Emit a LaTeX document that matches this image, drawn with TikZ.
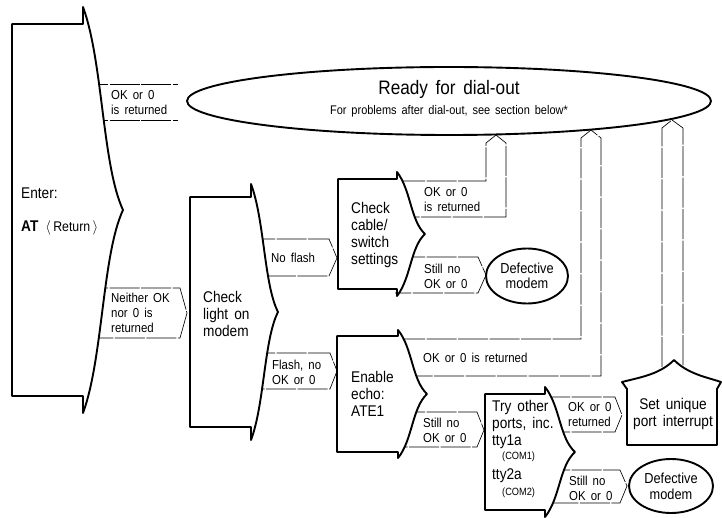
\documentclass[tikz,border=0pt]{standalone}
\usepackage{fontspec}
\setmainfont{Liberation Sans}[FakeStretch=0.88,WordSpace=1.6]
\usetikzlibrary{shapes.geometric}

% box whose right side is a brace: left, top, right, bottom, bulge, spike
\newcommand\bracebox[6]{%
  \path[outline] (#1,#2) -- (#3,#2) -- (#3,{#2-#6})
    .. controls ({#3+0.5*#5},{#2+0.1*(#4-#2)}) and ({#3+0.48*#5},{(#2+#4)/2-0.12*(#4-#2)}) .. ({#3+#5},{(#2+#4)/2})
    .. controls ({#3+0.48*#5},{(#2+#4)/2+0.12*(#4-#2)}) and ({#3+0.5*#5},{#4-0.1*(#4-#2)}) .. (#3,{#4+#6})
    -- (#3,#4) -- (#1,#4) -- cycle;}

\begin{document}
\begin{tikzpicture}[x=1pt,y=-1pt,
  outline/.style={draw,line width=1.9pt,fill=white,line join=round},
  lbl/.style={draw=black,line width=0.65pt,dash pattern=on 30pt off 1.5pt},
  big/.style={font=\fontsize{15.5}{17}\selectfont,align=left,inner sep=0pt,anchor=west},
  small/.style={font=\fontsize{13}{15}\selectfont,align=left,inner sep=0pt,anchor=west},
  com/.style={font=\fontsize{10.5}{12}\selectfont,inner sep=0pt,anchor=west},
]
  \useasboundingbox (0,0) rectangle (722,518);

  % answer boxes first, the outlines cover their left ends
  \draw[lbl] (78,84) -- (178,84) (78,120) -- (178,120);
  \draw[lbl] (78,288) -- (180,288) -- (187,313) -- (180,338) -- (78,338);
  \draw[lbl] (245,239) -- (329,239) -- (337,258) -- (329,276) -- (245,276);
  \draw[lbl] (245,353) -- (330,353) -- (337,371) -- (330,389) -- (245,389);
  \draw[lbl] (395,181) -- (486,181) -- (486,143) -- (496,135) -- (506,143) -- (506,217) -- (395,217);
  \draw[lbl] (395,257) -- (478,257) -- (486,275) -- (478,293) -- (395,293);
  \draw[lbl] (395,339) -- (581,339) -- (581,138) -- (591,130) -- (601,138) -- (601,376) -- (395,376);
  \draw[lbl] (395,412) -- (477,412) -- (484,430) -- (477,447) -- (395,447);
  \draw[lbl] (540,397) -- (615,397) -- (622,415) -- (615,432) -- (540,432);
  \draw[lbl] (662,367) -- (662,128) -- (672,120) -- (683,128) -- (683,367);
  \draw[lbl] (540,470) -- (620,470) -- (627,486) -- (620,503) -- (540,503);

  \bracebox{12}{24}{83}{396}{40}{17}
  \bracebox{190}{197}{251}{427}{27}{13}
  \bracebox{338}{179}{397}{289}{28}{7}
  \bracebox{337}{336}{398}{452}{29}{6}
  \bracebox{485}{394}{545}{510}{30}{7}
  \path[outline] (627,445) -- (627,389) -- (622,382) .. controls (642,377) and (660,374) .. (674,360)
    .. controls (688,374) and (706,377) .. (721,382) -- (717,389) -- (717,445) -- cycle;

  \node[outline,ellipse,minimum width=524pt,minimum height=68pt,inner sep=0pt] (ready) at (449,101) {};
  \node[outline,ellipse,minimum width=82pt,minimum height=55pt,inner sep=0pt,align=center,
    font=\fontsize{14.5}{15}\selectfont] (defA) at (527,276) {Defective\\modem};
  \node[outline,ellipse,minimum width=84pt,minimum height=54pt,inner sep=0pt,align=center,
    font=\fontsize{14.5}{16}\selectfont] (defB) at (671,486) {Defective\\modem};

  \node[anchor=base,font=\fontsize{19.5}{22}\selectfont] (title) at (449,95) {Ready for dial-out};
  \node[anchor=base,font=\fontsize{12.5}{14}\selectfont] (sub) at (449,115) {For problems after dial-out, see section below*};

  \node[big] (enter) at (21,193) {Enter:};
  \node[big] (at) at (21,228) {\textbf{AT}\hspace{7pt}{\fontsize{14}{16}\selectfont$\langle$\,Return\,$\rangle$}};
  \node[big] (light) at (203,314) {Check\\light on\\modem};
  \node[big] (cable) at (351,235) {Check\\cable/\\switch\\settings};
  \node[big] (echo) at (351,394) {Enable\\echo:\\ATE1};
  \node[big] (ports) at (492,424) {Try other\\ports, inc.\\tty1a};
  \node[com] (com1) at (502,457) {(COM1)};
  \node[big] (tty2) at (492,476) {tty2a};
  \node[com] (com2) at (502,493) {(COM2)};
  \node[big,anchor=center,align=center] (irq) at (673,414) {Set unique\\port interrupt};

  \node[small] (okA) at (111,102.5) {OK or 0\\is returned};
  \node[small] (neither) at (111,313) {Neither OK\\nor 0 is\\returned};
  \node[small] (noflash) at (271,258) {No flash};
  \node[small] (flash) at (272,372) {Flash, no\\OK or 0};
  \node[small] (okB) at (424,199.5) {OK or 0\\is returned};
  \node[small] (stillA) at (424,276) {Still no\\OK or 0};
  \node[small] (okC) at (423,358) {OK or 0 is returned};
  \node[small] (stillB) at (423,430) {Still no\\OK or 0};
  \node[small] (okD) at (568,415) {OK or 0\\returned};
  \node[small] (stillC) at (569,488) {Still no\\OK or 0};
\end{tikzpicture}
\end{document}
